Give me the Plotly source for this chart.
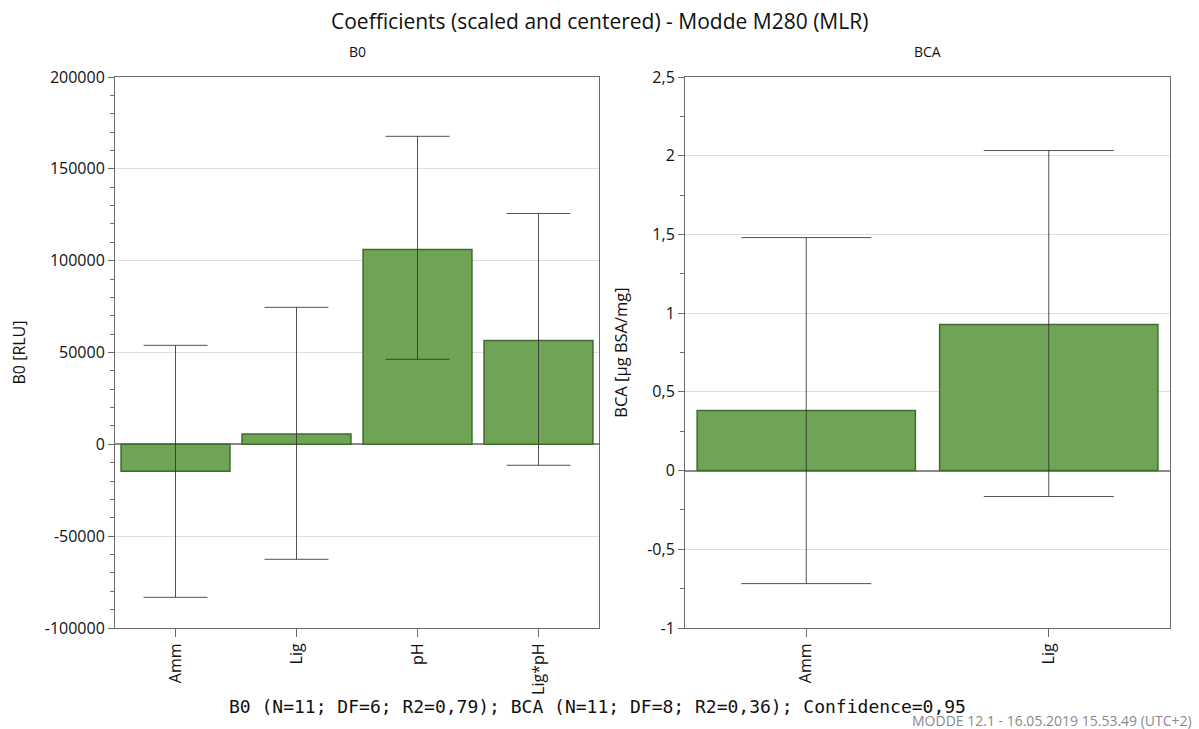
import plotly.graph_objects as go

# ---- data ----
b0_terms = ["Amm", "Lig", "pH", "Lig*pH"]
b0_coef = [-14700, 5600, 106100, 56600]
b0_upper = [53900, 74600, 167700, 125700]
b0_lower = [-83300, -62600, 46300, -11400]

bca_terms = ["Amm", "Lig"]
bca_coef = [0.381, 0.928]
bca_upper = [1.48, 2.033]
bca_lower = [-0.718, -0.165]

b0_tickvals = [-100000, -50000, 0, 50000, 100000, 150000, 200000]
b0_ticktext = ["-100000", "-50000", "0", "50000", "100000", "150000", "200000"]
bca_tickvals = [-1, -0.5, 0, 0.5, 1, 1.5, 2, 2.5]
bca_ticktext = ["-1", "-0,5", "0", "0,5", "1", "1,5", "2", "2,5"]

title_text = "Coefficients (scaled and centered) - Modde M280 (MLR)"
footnote = "B0 (N=11; DF=6; R2=0,79); BCA (N=11; DF=8; R2=0,36); Confidence=0,95"
stamp = "MODDE 12.1 - 16.05.2019 15.53.49 (UTC+2)"

FILL = "rgb(111,163,86)"
EDGE = "rgb(62,108,44)"
ERR = "rgba(50,50,50,0.85)"
AXC = "#6b6b6b"
FONT = "Open Sans, Noto Sans, sans-serif"

fig = go.Figure()
fig.add_trace(go.Bar(
    x=b0_terms, y=b0_coef, width=0.9,
    marker=dict(color=FILL, line=dict(color=EDGE, width=1.5)),
    error_y=dict(type="data", symmetric=False,
                 array=[u - c for u, c in zip(b0_upper, b0_coef)],
                 arrayminus=[c - l for c, l in zip(b0_coef, b0_lower)],
                 color=ERR, thickness=1, width=32),
    xaxis="x", yaxis="y", showlegend=False, hoverinfo="x+y"))
fig.add_trace(go.Bar(
    x=bca_terms, y=bca_coef, width=0.9,
    marker=dict(color=FILL, line=dict(color=EDGE, width=1.5)),
    error_y=dict(type="data", symmetric=False,
                 array=[u - c for u, c in zip(bca_upper, bca_coef)],
                 arrayminus=[c - l for c, l in zip(bca_coef, bca_lower)],
                 color=ERR, thickness=1, width=65),
    xaxis="x2", yaxis="y2", showlegend=False, hoverinfo="x+y"))

W, H = 1199, 729
yd = [1 - 628 / H, 1 - 77 / H]

common_x = dict(showline=True, linecolor=AXC, linewidth=1, mirror=True,
                ticks="outside", ticklen=8, tickcolor=AXC, tickangle=-90,
                tickfont=dict(size=16, color="#111"), showgrid=False,
                type="category", automargin=False)
common_y = dict(showline=True, linecolor=AXC, linewidth=1, mirror=True,
                ticks="outside", ticklen=6, tickcolor=AXC,
                tickfont=dict(size=16, color="#111"),
                showgrid=True, gridcolor="#dedede", gridwidth=1,
                zeroline=True, zerolinecolor="#8a8a8a", zerolinewidth=1.5,
                tickmode="array", automargin=False)

fig.update_layout(
    width=W, height=H,
    margin=dict(l=0, r=0, t=0, b=0, pad=0),
    paper_bgcolor="white", plot_bgcolor="white",
    font=dict(family=FONT, color="#111"),
    bargap=0.1,
    xaxis=dict(domain=[115 / W, 599 / W], anchor="y", **common_x),
    yaxis=dict(domain=yd, anchor="x", range=[-100000, 200000],
               tickvals=b0_tickvals, ticktext=b0_ticktext,
               minor=dict(tickmode="linear", tick0=0, dtick=10000, ticks="outside",
                          ticklen=4, tickcolor=AXC, showgrid=False),
               title=dict(text="B0 [RLU]", font=dict(size=16)),
               **common_y),
    xaxis2=dict(domain=[685 / W, 1170 / W], anchor="y2", **common_x),
    yaxis2=dict(domain=yd, anchor="x2", range=[-1, 2.5],
                tickvals=bca_tickvals, ticktext=bca_ticktext,
                minor=dict(tickmode="linear", tick0=0, dtick=0.25, ticks="outside",
                           ticklen=4, tickcolor=AXC, showgrid=False),
                title=dict(text="BCA [µg BSA/mg]", font=dict(size=16.5)),
                **common_y),
    annotations=[
        dict(text=title_text, x=0.5, y=1 - 21 / H, xref="paper", yref="paper",
             xanchor="center", yanchor="middle", showarrow=False,
             font=dict(size=21, family=FONT, color="#111")),
        dict(text="B0", x=(115 + 599) / 2 / W, y=1 - 52 / H, xref="paper", yref="paper",
             xanchor="center", yanchor="middle", showarrow=False,
             font=dict(size=14, family=FONT, color="#111")),
        dict(text="BCA", x=(685 + 1170) / 2 / W, y=1 - 52 / H, xref="paper", yref="paper",
             xanchor="center", yanchor="middle", showarrow=False,
             font=dict(size=14, family=FONT, color="#111")),
        dict(text=footnote, x=597 / W, y=1 - 706 / H, xref="paper", yref="paper",
             xanchor="center", yanchor="middle", showarrow=False,
             font=dict(size=18, family="DejaVu Sans Mono, Liberation Mono, monospace",
                       color="#111")),
        dict(text=stamp, x=1194 / W, y=1 - 720 / H, xref="paper", yref="paper",
             xanchor="right", yanchor="middle", showarrow=False,
             font=dict(size=14, family=FONT, color="#8a8a8a")),
    ],
)

fig.write_html("out.html")
